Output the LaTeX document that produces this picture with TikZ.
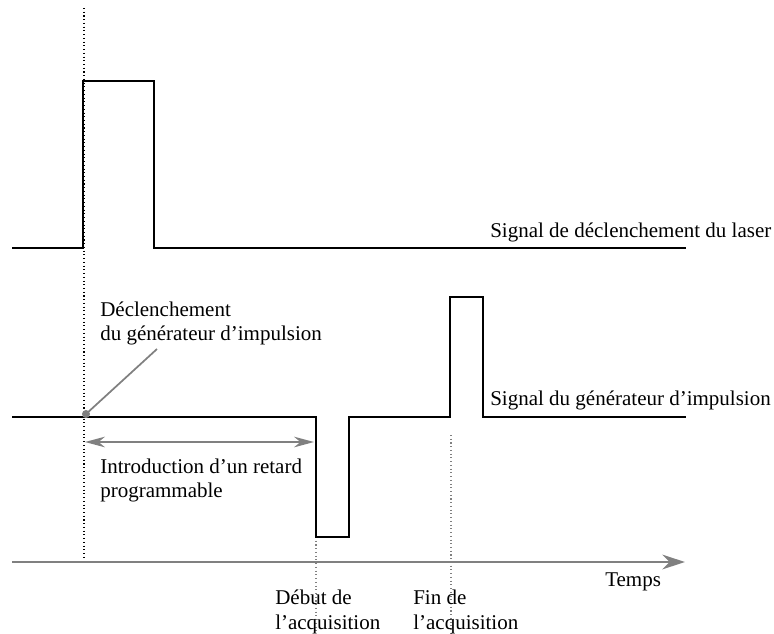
\documentclass[tikz,border=0pt]{standalone}
\usepackage{fontspec}
\setmainfont{Liberation Serif}
\usetikzlibrary{arrows.meta}
\definecolor{axisgray}{RGB}{128,128,128}
\tikzset{
  sig/.style={line width=1.5pt, black, line join=miter},
  lbl/.style={anchor=base west, inner sep=0pt, font=\fontsize{15.75}{18.75}\selectfont},
  guide/.style={dotted, line width=0.8pt, black},
  gguide/.style={dotted, line width=0.8pt, axisgray},
  gline/.style={line width=1.3pt, axisgray},
}
\begin{document}
\begin{tikzpicture}[x=0.75pt,y=-0.75pt]
\useasboundingbox (0,0) rectangle (774,633);
% guides
\draw[guide] (84,8) -- (84,560);
\draw[gguide] (316,537) -- (316,633);
\draw[gguide] (451,435) -- (451,633);
% signals
\draw[sig] (12,248) -- (83,248) -- (83,81) -- (154,81) -- (154,248) -- (686,248);
\draw[sig] (12,417) -- (316,417) -- (316,537) -- (349,537) -- (349,417) -- (450,417) -- (450,297) -- (483,297) -- (483,417) -- (686,417);
% time axis
\coordinate (ax0) at (12,562);
\coordinate (ax1) at (685,562);
\draw[line width=2.2pt, axisgray, -{Stealth[length=17pt,width=11pt]}] (ax0) -- (ax1);
% trigger marker
\coordinate (dot) at (86,414);
\coordinate (dotend) at (157,349);
\draw[gline] (dot) -- (dotend);
\fill[axisgray] (dot) circle (4);
% delay arrow
\coordinate (d0) at (85,442);
\coordinate (d1) at (314,442);
\draw[gline, {Stealth[length=15pt,width=8pt]}-{Stealth[length=15pt,width=8pt]}] (d0) -- (d1);
% labels
\node[lbl] (laser) at (490,237) {Signal de déclenchement du laser};
\node[lbl] (gen) at (490,405) {Signal du générateur d’impulsion};
\node[lbl] (decl1) at (100,316) {Déclenchement};
\node[lbl] (decl2) at (100,340) {du générateur d’impulsion};
\node[lbl] (intro1) at (100,473) {Introduction d’un retard};
\node[lbl] (intro2) at (100,497) {programmable};
\node[lbl] (temps) at (605,586) {Temps};
\node[lbl] (deb1) at (275,604) {Début de};
\node[lbl] (deb2) at (275,629) {l’acquisition};
\node[lbl] (fin1) at (413,604) {Fin de};
\node[lbl] (fin2) at (413,629) {l’acquisition};
\end{tikzpicture}
\end{document}
